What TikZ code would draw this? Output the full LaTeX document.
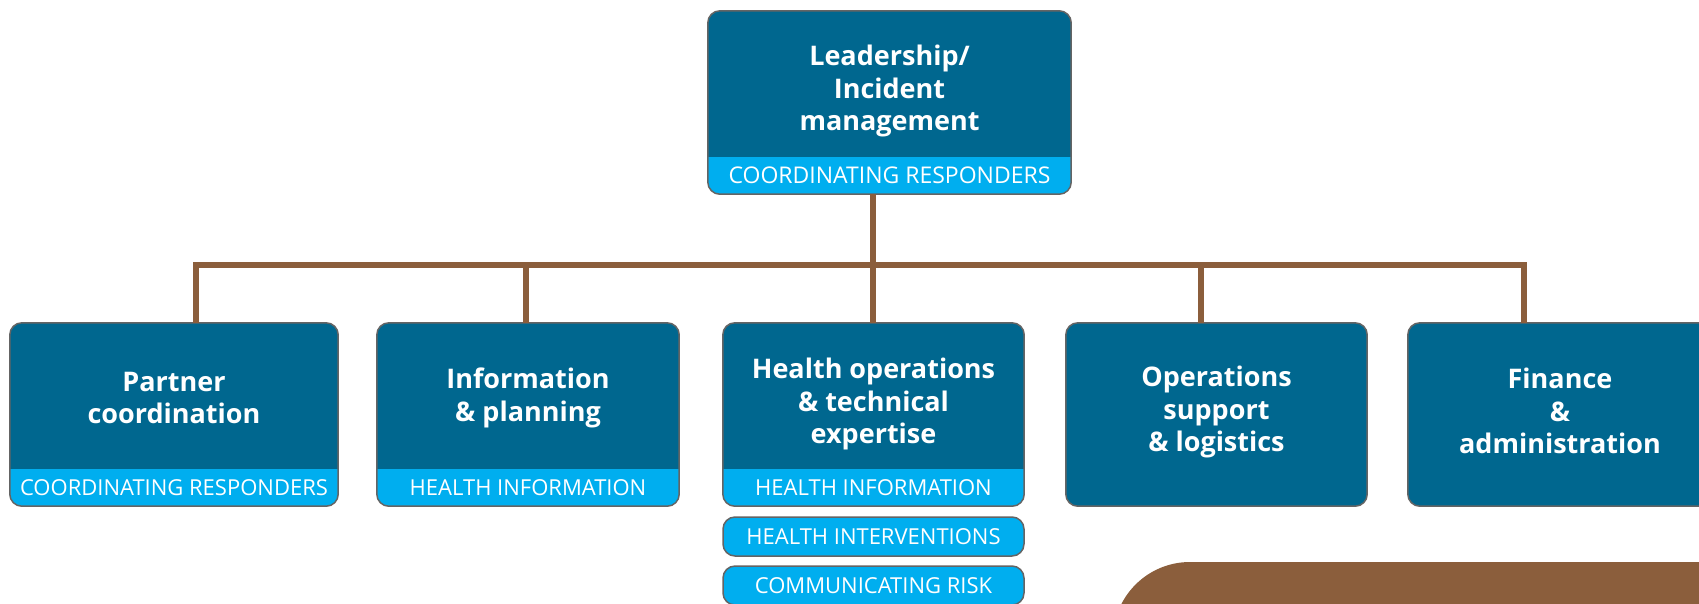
\documentclass[tikz,border=0pt]{standalone}
\usepackage{fontspec}
\setmainfont{Open Sans}
\definecolor{dkblue}{RGB}{0,103,143}
\definecolor{ltblue}{RGB}{0,174,239}
\definecolor{brn}{RGB}{139,94,60}
\definecolor{edgegray}{RGB}{100,100,100}
\begin{document}
\begin{tikzpicture}[x=1pt,y=-1pt,
  box/.style={fill=dkblue, inner sep=0pt, rounded corners=12pt, minimum height=183pt},
  pill/.style={fill=ltblue, draw=edgegray, line width=1.5pt, rounded corners=12pt, inner sep=0pt, minimum height=39pt, minimum width=301pt},
  border/.style={draw=edgegray, line width=1.5pt, rounded corners=12pt},
  title/.style={text=white, align=center, inner sep=0pt, font=\fontsize{27}{32.5}\selectfont\bfseries},
  bandtxt/.style={text=white, inner sep=0pt, font=\fontsize{22}{26}\selectfont},
  conn/.style={draw=brn, line width=6pt}]
\useasboundingbox (0,0) rectangle (1699,603);
\clip (0,0) rectangle (1699,603);
\fill[white] (0,0) rectangle (1699,603);

% boxes
\node[box, minimum width=363pt] (lead) at (889.5,102.5) {};
\node[box, minimum width=328pt] (partner) at (174,414.5) {};
\node[box, minimum width=302pt] (info) at (528,414.5) {};
\node[box, minimum width=301pt] (health) at (873.5,414.5) {};
\node[box, minimum width=301pt] (ops) at (1216.5,414.5) {};
\node[box, minimum width=304pt] (finance) at (1560,414.5) {};

% light bands
\foreach \n in {lead,partner,info,health}{
  \begin{scope}
    \clip[rounded corners=12pt] (\n.south west) rectangle (\n.north east);
    \fill[ltblue] (\n.south west) rectangle ([yshift=37pt]\n.south east);
  \end{scope}
}
\foreach \n in {lead,partner,info,health,ops,finance}{
  \path[border] (\n.south west) rectangle (\n.north east);
}

% pills
\node[pill] (interv) at (873.5,536.5) {};
\node[pill] (risk) at (873.5,585.5) {};

% titles
\node[title] (leadT) at (889.5,91) {Leadership/\\Incident\\management};
\node[title] (partnerT) at (174,398) {Partner\\coordination};
\node[title] (infoT) at (528,398) {Information\\\& planning};
\node[title] (healthT) at (873.5,404) {Health operations\\\& technical\\expertise};
\node[title] (opsT) at (1216.5,412) {Operations\\support\\\& logistics};
\node[title] (financeT) at (1560,411) {Finance\\\&\\administration};

% band labels
\node[bandtxt, font=\fontsize{23}{26}\selectfont] (leadB) at (889.5,175.5) {COORDINATING RESPONDERS};
\node[bandtxt] (partnerB) at (174,487.5) {COORDINATING RESPONDERS};
\node[bandtxt] (infoB) at (528,487.5) {HEALTH INFORMATION};
\node[bandtxt] (healthB) at (873.5,487.5) {HEALTH INFORMATION};
\node[bandtxt] (intervB) at (interv) {HEALTH INTERVENTIONS};
\node[bandtxt] (riskB) at (risk) {COMMUNICATING RISK};

% connectors
\coordinate (bus) at (0,265);
\draw[conn] ([xshift=-16.5pt]lead.south) -- ([xshift=-16.5pt]lead.south |- bus);
\draw[conn] ([xshift=22pt]partner.north) -- ([xshift=22pt]partner.north |- bus)
  -- ([xshift=-36pt]finance.north |- bus) -- ([xshift=-36pt]finance.north);
\draw[conn] ([xshift=-2pt]info.north) -- ([xshift=-2pt]info.north |- bus);
\draw[conn] ([xshift=-0.5pt]health.north) -- ([xshift=-0.5pt]health.north |- bus);
\draw[conn] ([xshift=-15.5pt]ops.north) -- ([xshift=-15.5pt]ops.north |- bus);

% brown panel
\fill[brn, rounded corners=77pt] (1113,562) rectangle (1900,800);
\end{tikzpicture}
\end{document}
